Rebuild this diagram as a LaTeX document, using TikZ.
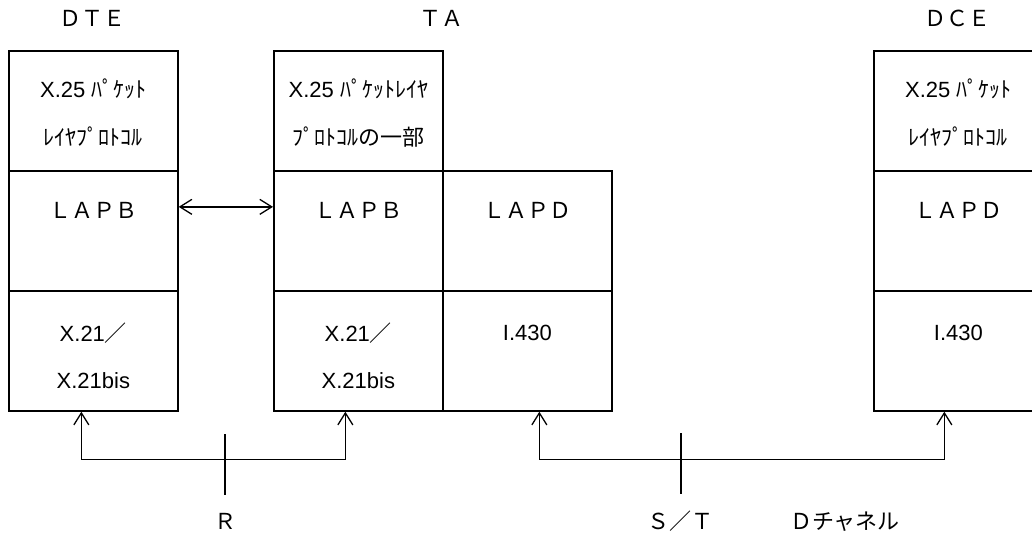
\documentclass[tikz,border=0pt]{standalone}
\usepackage{fontspec}
\setmainfont{Liberation Sans}
\newfontfamily\jp{Noto Sans CJK JP}
\usetikzlibrary{arrows.meta,calc}
\begin{document}
\begin{tikzpicture}[x=1pt,y=-1pt,
  cell/.style={draw,line width=1.7pt,minimum width=169pt,minimum height=120pt,inner sep=0pt,anchor=north west},
  txt/.style={font=\fontsize{22}{26}\selectfont,text height=16pt,text depth=0pt,inner sep=0pt},
  link/.style={line width=1.3pt,{Straight Barb[length=12pt,width=15pt]}-{Straight Barb[length=12pt,width=15pt]}},
  tickline/.style={line width=1.3pt}]
\useasboundingbox (0,0) rectangle (1032,533);
\clip (0,0) rectangle (1032,533);
% DTE
\node[cell] (dte1) at (8,50) {};
\node[cell] (dte2) at (8,170) {};
\node[cell] (dte3) at (8,290) {};
% TA
\node[cell] (ta1) at (273,50) {};
\node[cell] (ta2) at (273,170) {};
\node[cell] (ta3) at (273,290) {};
\node[cell] (tb2) at (442,170) {};
\node[cell] (tb3) at (442,290) {};
% DCE
\node[cell] (dce1) at (873,50) {};
\node[cell] (dce2) at (873,170) {};
\node[cell] (dce3) at (873,290) {};
% titles
\node[txt] (tdte) at (92,18) {\jp ＤＴＥ};
\node[txt] (tta) at (441,18) {\jp ＴＡ};
\node[txt] (tdce) at (957,18) {\jp ＤＣＥ};
% texts
\node[txt] (dte1a) at ($(dte1.north)+(0,39)$) {X.25 {\jp ﾊﾟｹｯﾄ}};
\node[txt] (dte1b) at ($(dte1.north)+(0,87)$) {\jp ﾚｲﾔﾌﾟﾛﾄｺﾙ};
\node[txt] (dte2a) at ($(dte2.north)+(0,40)$) {\jp ＬＡＰＢ};
\node[txt] (dte3a) at ($(dte3.north)+(0,43)$) {X.21{\jp ／}};
\node[txt] (dte3b) at ($(dte3.north)+(0,90)$) {X.21bis};
\node[txt] (ta1a) at ($(ta1.north)+(0,39)$) {X.25 {\jp ﾊﾟｹｯﾄﾚｲﾔ}};
\node[txt] (ta1b) at ($(ta1.north)+(0,87)$) {\jp ﾌﾟﾛﾄｺﾙの一部};
\node[txt] (ta2a) at ($(ta2.north)+(0,40)$) {\jp ＬＡＰＢ};
\node[txt] (ta3a) at ($(ta3.north)+(0,43)$) {X.21{\jp ／}};
\node[txt] (ta3b) at ($(ta3.north)+(0,90)$) {X.21bis};
\node[txt] (tb2a) at ($(tb2.north)+(0,40)$) {\jp ＬＡＰＤ};
\node[txt] (tb3a) at ($(tb3.north)+(0,42)$) {I.430};
\node[txt] (dce1a) at ($(dce1.north)+(0,39)$) {X.25 {\jp ﾊﾟｹｯﾄ}};
\node[txt] (dce1b) at ($(dce1.north)+(0,87)$) {\jp ﾚｲﾔﾌﾟﾛﾄｺﾙ};
\node[txt] (dce2a) at ($(dce2.north)+(0,40)$) {\jp ＬＡＰＤ};
\node[txt] (dce3a) at ($(dce3.north)+(0,42)$) {I.430};
% connectors
\draw[link] ([yshift=24pt]dte2.east) -- ([yshift=24pt]ta2.west);
\draw[link] ([xshift=-12pt]dte3.south) -- ++(0,48) -| ([xshift=-13pt]ta3.south);
\draw[link] ([xshift=12pt]tb3.south) -- ++(0,48) -| ([xshift=-14pt]dce3.south);
% ticks and labels
\coordinate (r1) at (225,434);
\coordinate (r2) at (225,495);
\draw[tickline] (r1) -- (r2);
\coordinate (s1) at (681,433);
\coordinate (s2) at (681,494);
\draw[tickline] (s1) -- (s2);
\node[txt] (rlab) at (225,521) {\jp Ｒ};
\node[txt] (stlab) at (680,521) {\jp Ｓ／Ｔ};
\node[txt] (dlab) at (845,521) {\jp Ｄチャネル};
\end{tikzpicture}
\end{document}
